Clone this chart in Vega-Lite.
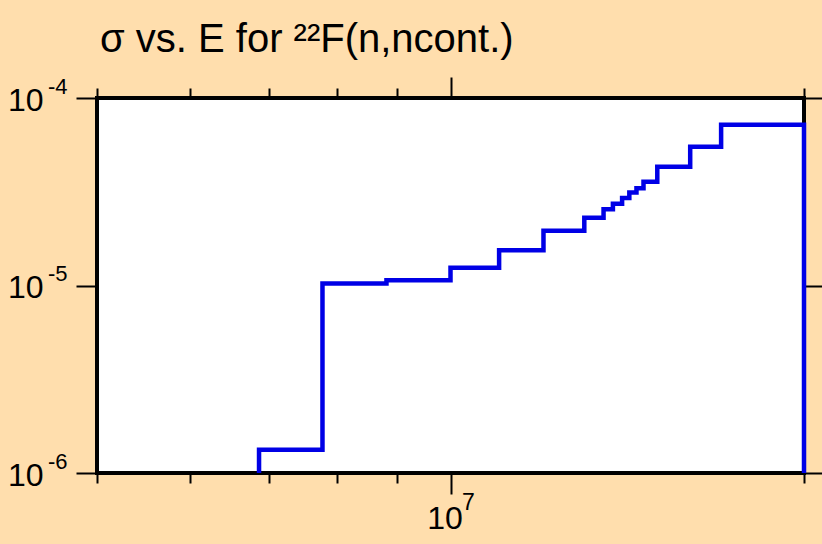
{
  "$schema": "https://vega.github.io/schema/vega-lite/v6.json",
  "width": 707,
  "height": 375,
  "autosize": {"type": "none"},
  "padding": {"left": 97, "top": 98, "right": 18, "bottom": 71},
  "background": "#FFDEAD",
  "title": {
    "text": "σ vs. E for ²²F(n,ncont.)",
    "anchor": "start",
    "frame": "group",
    "font": "Liberation Sans",
    "fontSize": 40,
    "fontWeight": "normal",
    "color": "black",
    "baseline": "alphabetic",
    "offset": 22,
    "dx": 3,
    "dy": 39
  },
  "config": {
    "view": {"stroke": "black", "strokeWidth": 4, "fill": "white"},
    "axis": {
      "grid": false,
      "domain": false,
      "title": null,
      "labelFont": "Liberation Sans",
      "labelColor": "black",
      "tickColor": "black",
      "tickWidth": 2,
      "labelOverlap": false,
      "labelFlush": false,
      "labelBound": false
    }
  },
  "data": {
    "values": [
      {"i": 0, "E": 6870000, "xs": 0.000001},
      {"i": 1, "E": 6870000, "xs": 0.00000133},
      {"i": 2, "E": 7780000, "xs": 0.00001025},
      {"i": 3, "E": 8820000, "xs": 0.00001068},
      {"i": 4, "E": 10000000, "xs": 0.00001243},
      {"i": 5, "E": 11000000, "xs": 0.0000154},
      {"i": 6, "E": 12000000, "xs": 0.0000196},
      {"i": 7, "E": 13000000, "xs": 0.000023},
      {"i": 8, "E": 13500000, "xs": 0.0000255},
      {"i": 9, "E": 13750000, "xs": 0.0000273},
      {"i": 10, "E": 14000000, "xs": 0.0000293},
      {"i": 11, "E": 14200000, "xs": 0.0000313},
      {"i": 12, "E": 14400000, "xs": 0.000033},
      {"i": 13, "E": 14600000, "xs": 0.0000358},
      {"i": 14, "E": 15000000, "xs": 0.000043},
      {"i": 15, "E": 16000000, "xs": 0.0000549},
      {"i": 16, "E": 17000000, "xs": 0.000072},
      {"i": 17, "E": 20000000, "xs": 0.000001}
    ]
  },
  "layer": [
    {
      "mark": {"type": "line", "interpolate": "step-after", "color": "#0000E6", "strokeWidth": 4.5},
      "encoding": {
        "x": {
          "field": "E", "type": "quantitative",
          "scale": {"type": "log", "domain": [5000000, 20000000], "nice": false},
          "axis": {
            "orient": "bottom",
            "values": [5000000, 6000000, 7000000, 8000000, 9000000, 10000000, 20000000],
            "tickSize": {"condition": {"test": "datum.value == 10000000", "value": 21}, "value": 10},
            "labelExpr": "datum.value == 10000000 ? '10' : ''",
            "labelFontSize": 32,
            "labelAlign": "center",
            "labelBaseline": "top",
            "labelPadding": 9,
            "labelOffset": -6
          }
        },
        "y": {
          "field": "xs", "type": "quantitative",
          "scale": {"type": "log", "domain": [0.000001, 0.0001], "nice": false},
          "axis": {
            "orient": "left",
            "values": [0.000001, 0.00001, 0.0001],
            "tickSize": 21,
            "labelExpr": "'10'",
            "labelFontSize": 32,
            "labelAlign": "right",
            "labelBaseline": "middle",
            "labelPadding": 33,
            "labelOffset": 2
          }
        },
        "order": {"field": "i", "type": "quantitative"}
      }
    },
    {
      "mark": {"type": "line", "interpolate": "step-after", "strokeOpacity": 0},
      "encoding": {
        "x": {
          "field": "E", "type": "quantitative",
          "axis": {
            "orient": "bottom",
            "values": [10000000],
            "ticks": false,
            "tickSize": 0,
            "labelExpr": "'7'",
            "labelFontSize": 23,
            "labelAlign": "left",
            "labelBaseline": "top",
            "labelPadding": 18,
            "labelOffset": 11
          }
        },
        "y": {
          "field": "xs", "type": "quantitative",
          "axis": {
            "orient": "left",
            "values": [0.000001, 0.00001, 0.0001],
            "ticks": false,
            "tickSize": 0,
            "labelExpr": "'' + round(log(datum.value) / LN10)",
            "labelFontSize": 22,
            "labelAlign": "right",
            "labelBaseline": "middle",
            "labelPadding": 30,
            "labelOffset": -12
          }
        },
        "order": {"field": "i", "type": "quantitative"}
      }
    },
    {
      "mark": {"type": "line", "interpolate": "step-after", "strokeOpacity": 0},
      "encoding": {
        "x": {
          "field": "E", "type": "quantitative",
          "axis": {
            "orient": "top",
            "values": [5000000, 6000000, 7000000, 8000000, 9000000, 10000000, 20000000],
            "tickSize": {"condition": {"test": "datum.value == 10000000", "value": 21}, "value": 10},
            "labels": false
          }
        },
        "y": {
          "field": "xs", "type": "quantitative",
          "axis": {
            "orient": "right",
            "values": [0.000001, 0.00001, 0.0001],
            "tickSize": 21,
            "labels": false
          }
        },
        "order": {"field": "i", "type": "quantitative"}
      }
    }
  ],
  "resolve": {"axis": {"x": "independent", "y": "independent"}}
}
